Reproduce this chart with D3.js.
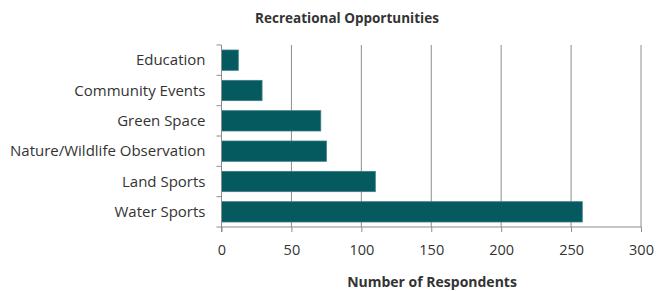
<!DOCTYPE html>
<html>
<head>
<meta charset="utf-8">
<script src="https://cdn.jsdelivr.net/npm/d3@7/dist/d3.min.js"></script>
<style>
  body{margin:0;background:#fff;}
  text{font-family:"Open Sans",sans-serif;fill:#333;}
</style>
</head>
<body>
<svg></svg>
<script>
var categories=["Education","Community Events","Green Space","Nature/Wildlife Observation","Land Sports","Water Sports"]
var respondents=[12,29,71,75,110,258]
var xTicks=[0,50,100,150,200,250,300]

var screen={width:657,height:291}
var margin={top:45,right:16,bottom:64,left:221.5}

var svg=d3.select("svg")
          .attr("width",screen.width)
          .attr("height",screen.height)

var x=d3.scaleLinear()
        .domain([0,300])
        .range([margin.left,screen.width-margin.right])

var y=d3.scaleBand()
        .domain(categories)
        .range([margin.top,screen.height-margin.bottom])
        .paddingInner(0.33)
        .paddingOuter(0.165)

// gridlines
svg.append("g")
   .selectAll("line")
   .data(xTicks.slice(1))
   .enter()
   .append("line")
   .attr("x1",function(d){return x(d);})
   .attr("x2",function(d){return x(d);})
   .attr("y1",margin.top)
   .attr("y2",screen.height-margin.bottom)
   .attr("stroke","#8c8c8c")
   .attr("stroke-width",1)

svg.append("g")
   .selectAll("rect")
   .data(respondents)
   .enter()
   .append("rect")
   .attr("x",x(0))
   .attr("y",function(d,i){return y(categories[i]);})
   .attr("width",function(d){return x(d)-x(0);})
   .attr("height",y.bandwidth())
   .attr("fill","#055a60")
   .attr("stroke","#3a7f84")
   .attr("stroke-width",0.8)

// x axis
var xAxis=svg.append("g")
   .attr("transform","translate(0,"+(screen.height-margin.bottom)+")")
   .call(d3.axisBottom(x).tickValues(xTicks).tickSize(5).tickPadding(13))
xAxis.selectAll("line").attr("stroke","#8c8c8c")
xAxis.select(".domain").attr("stroke","#8c8c8c").attr("d","M"+x(0)+",0H"+x(300))
xAxis.selectAll("text").style("font-size","14.5px").attr("fill","#333")

// y axis with ticks at category boundaries
var yg=svg.append("g")
yg.append("line")
  .attr("x1",x(0)).attr("x2",x(0))
  .attr("y1",margin.top).attr("y2",screen.height-margin.bottom+5)
  .attr("stroke","#8c8c8c")
var step=y.step()
yg.selectAll("line.bound")
  .data(d3.range(categories.length+1))
  .enter()
  .append("line")
  .attr("class","bound")
  .attr("x1",x(0)-5).attr("x2",x(0))
  .attr("y1",function(i){return margin.top+i*step;})
  .attr("y2",function(i){return margin.top+i*step;})
  .attr("stroke","#8c8c8c")
yg.selectAll("text")
  .data(categories)
  .enter()
  .append("text")
  .attr("x",x(0)-16)
  .attr("y",function(d){return y(d)+y.bandwidth()/2;})
  .attr("dy","0.35em")
  .attr("text-anchor","end")
  .style("font-size","15px")
  .text(function(d){return d;})

svg.append("text")
   .attr("x",347)
   .attr("y",23)
   .attr("text-anchor","middle")
   .style("font-size","13.5px")
   .style("font-weight","bold")
   .text("Recreational Opportunities")

svg.append("text")
   .attr("x",432)
   .attr("y",287)
   .attr("text-anchor","middle")
   .style("font-size","14px")
   .style("font-weight","bold")
   .text("Number of Respondents")
</script>
</body>
</html>
